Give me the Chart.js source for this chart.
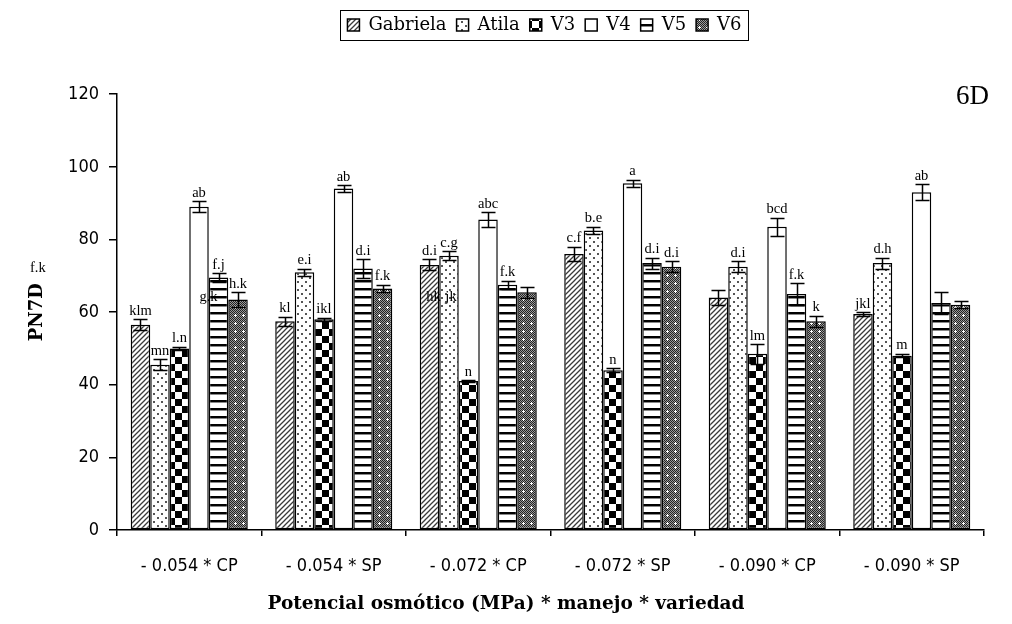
<!DOCTYPE html>
<html>
<head>
<meta charset="utf-8">
<script src="https://cdn.jsdelivr.net/npm/chart.js@4.4.1/dist/chart.umd.min.js"></script>
<style>
  html, body { margin: 0; padding: 0; background: #fff; }
  #wrap { width: 1012px; height: 624px; position: relative; }
</style>
</head>
<body>
<div id="wrap"><canvas id="chart"></canvas></div>
<script>
/* --- Data --- */
const categories = ['- 0.054 * CP', '- 0.054 * SP', '- 0.072 * CP', '- 0.072 * SP', '- 0.090 * CP', '- 0.090 * SP'];
const seriesNames = ['Gabriela', 'Atila', 'V3', 'V4', 'V5', 'V6'];

const gabriela = [56.5, 57.5, 73.0, 76.0, 64.0, 59.5];
const atila    = [45.5, 71.0, 75.5, 82.5, 72.5, 73.5];
const v3       = [50.0, 58.0, 41.0, 44.0, 48.5, 48.0];
const v4       = [89.0, 94.0, 85.5, 95.5, 83.5, 93.0];
const v5       = [69.5, 72.0, 67.5, 73.5, 65.0, 62.5];
const v6       = [63.5, 66.5, 65.5, 72.5, 57.5, 62.0];

// standard errors
const gabrielaErr = [1.5, 1.2, 1.5, 2.0, 2.0, 0.5];
const atilaErr    = [1.5, 1.0, 1.2, 1.0, 1.5, 1.5];
const v3Err       = [0.5, 0.5, 0.3, 0.5, 2.7, 0.5];
const v4Err       = [1.5, 1.0, 2.0, 1.0, 2.5, 2.2];
const v5Err       = [1.2, 2.5, 1.2, 1.5, 3.0, 3.0];
const v6Err       = [2.0, 1.0, 1.5, 1.5, 1.5, 1.0];

// significance letters
const gabrielaLetters = ['klm', 'kl', 'd.i', 'c.f', '', 'jkl'];
const atilaLetters    = ['mn', 'e.i', 'c.g', 'b.e', 'd.i', 'd.h'];
const v3Letters       = ['l.n', 'ikl', 'n', 'n', 'lm', 'm'];
const v4Letters       = ['ab', 'ab', 'abc', 'a', 'bcd', 'ab'];
const v5Letters       = ['f.j', 'd.i', 'f.k', 'd.i', 'f.k', ''];
const v6Letters       = ['h.k', 'f.k', '', 'd.i', 'k', ''];

const yTicks = [0, 20, 40, 60, 80, 100, 120];
const xTitle = 'Potencial osmótico (MPa) * manejo * variedad';

/* --- Fill patterns (black & white Excel look) --- */
function makePattern(kind) {
    const c = document.createElement('canvas');
    const g = c.getContext('2d');
    if (kind === 'diag') {
        c.width = 5; c.height = 5;
        g.fillStyle = '#fff'; g.fillRect(0, 0, 5, 5);
        g.strokeStyle = '#3a3a3a'; g.lineWidth = 1.3;
        g.beginPath();
        g.moveTo(-1, 6); g.lineTo(6, -1);
        g.moveTo(-1, 1); g.lineTo(1, -1);
        g.moveTo(4, 6); g.lineTo(6, 4);
        g.stroke();
    } else if (kind === 'dots') {
        c.width = 8; c.height = 8;
        g.fillStyle = '#fff'; g.fillRect(0, 0, 8, 8);
        g.fillStyle = '#555';
        g.fillRect(1, 1, 2, 2);
        g.fillRect(5, 5, 2, 2);
    } else if (kind === 'checker') {
        c.width = 14; c.height = 14;
        g.fillStyle = '#fff'; g.fillRect(0, 0, 14, 14);
        g.fillStyle = '#000';
        g.fillRect(0, 0, 7, 7);
        g.fillRect(7, 7, 7, 7);
    } else if (kind === 'hstripe') {
        c.width = 4; c.height = 8;
        g.fillStyle = '#fff'; g.fillRect(0, 0, 4, 8);
        g.fillStyle = '#000'; g.fillRect(0, 0, 4, 2);
        g.fillStyle = '#888'; g.fillRect(0, 2, 4, 1);
    } else if (kind === 'gray') {
        c.width = 8; c.height = 8;
        for (let y = 0; y < 8; y++) {
            for (let x = 0; x < 8; x++) {
                g.fillStyle = (x + y) % 2 === 0 ? '#222' : '#9a9a9a';
                g.fillRect(x, y, 1, 1);
            }
        }
        g.fillStyle = '#fff';
        g.fillRect(3, 2, 1, 3);
        g.fillRect(2, 3, 3, 1);
    } else {
        c.width = 2; c.height = 2;
        g.fillStyle = '#fff'; g.fillRect(0, 0, 2, 2);
    }
    return g.createPattern(c, 'repeat');
}

const fills = [makePattern('diag'), makePattern('dots'), makePattern('checker'),
               makePattern('plain'), makePattern('hstripe'), makePattern('gray')];
const values  = [gabriela, atila, v3, v4, v5, v6];
const errors  = [gabrielaErr, atilaErr, v3Err, v4Err, v5Err, v6Err];
const letters = [gabrielaLetters, atilaLetters, v3Letters, v4Letters, v5Letters, v6Letters];

// stray letters that sit beside bars in the original
// [text, series index, category index, value, dx in px]
const extraLetters = [
    ['g.k', 4, 0, 62, -10],
    ['hk', 0, 2, 62, 4],
    ['jk', 1, 2, 62, 2]
];

const times = "'Liberation Serif', 'Times New Roman', serif";
const wideSerif = "'DejaVu Serif', serif";
const sans = "'DejaVu Sans Condensed', 'DejaVu Sans', sans-serif";

/* --- Plugins --- */
const errorBarPlugin = {
    id: 'errorBars',
    afterDatasetsDraw(chart) {
        const ctx = chart.ctx;
        const yScale = chart.scales.y;
        ctx.save();
        ctx.strokeStyle = '#000';
        ctx.lineWidth = 1.5;
        chart.data.datasets.forEach((ds, di) => {
            const meta = chart.getDatasetMeta(di);
            meta.data.forEach((bar, i) => {
                const v = values[di][i], e = errors[di][i];
                const yT = Math.round(yScale.getPixelForValue(v + e)) + 0.5;
                const yB = Math.round(yScale.getPixelForValue(v - e)) + 0.5;
                const x = Math.round(bar.x) + 0.5;
                const cap = 7;
                ctx.beginPath();
                ctx.moveTo(x, yT); ctx.lineTo(x, yB);
                ctx.moveTo(x - cap, yT); ctx.lineTo(x + cap, yT);
                ctx.moveTo(x - cap, yB); ctx.lineTo(x + cap, yB);
                ctx.stroke();
            });
        });
        // letters
        ctx.fillStyle = '#000';
        ctx.font = '14.5px ' + times;
        ctx.textAlign = 'center';
        ctx.textBaseline = 'bottom';
        chart.data.datasets.forEach((ds, di) => {
            const meta = chart.getDatasetMeta(di);
            meta.data.forEach((bar, i) => {
                const t = letters[di][i];
                if (!t) return;
                const y = yScale.getPixelForValue(values[di][i] + errors[di][i]) - 1;
                ctx.fillText(t, bar.x, y);
            });
        });
        extraLetters.forEach(([t, di, i, v, dx]) => {
            const bar = chart.getDatasetMeta(di).data[i];
            ctx.textAlign = 'center';
            ctx.fillText(t, bar.x + dx, yScale.getPixelForValue(v));
        });
        // stray "f.k" left of the axis
        ctx.textAlign = 'left';
        ctx.fillText('f.k', chart.chartArea.left - 87, yScale.getPixelForValue(70));
        // panel tag
        ctx.font = '27px ' + times;
        ctx.textAlign = 'right';
        ctx.textBaseline = 'middle';
        ctx.fillText('6D', chart.width - 23, yScale.getPixelForValue(120) + 3);
        // x axis title, centred on the whole figure like the original
        ctx.font = 'bold 18.5px ' + wideSerif;
        ctx.textAlign = 'center';
        ctx.textBaseline = 'middle';
        ctx.fillText(xTitle, chart.width / 2, chart.scales.x.bottom - 10);
        ctx.restore();
    }
};

const legendBoxPlugin = {
    id: 'legendBox',
    afterLayout(chart) {
        // centre the legend roughly over the plot area, not the whole canvas
        const lg = chart.legend;
        if (!lg) return;
        lg.left = chart.chartArea.left - 6;
        lg.right = chart.chartArea.right - 6;
        lg.width = lg.right - lg.left;
    },
    afterDraw(chart) {
        const boxes = chart.legend && chart.legend.legendHitBoxes;
        if (!boxes || !boxes.length) return;
        const left = Math.min(...boxes.map(b => b.left)) - 7;
        const right = Math.max(...boxes.map(b => b.left + b.width)) + 7;
        const top = Math.min(...boxes.map(b => b.top)) - 6;
        const bottom = Math.max(...boxes.map(b => b.top + b.height)) + 6;
        const ctx = chart.ctx;
        ctx.save();
        ctx.strokeStyle = '#000';
        ctx.lineWidth = 1;
        ctx.strokeRect(Math.round(left) + 0.5, Math.round(top) + 0.5,
                       Math.round(right - left), Math.round(bottom - top));
        ctx.restore();
    }
};

/* --- Chart --- */
new Chart(document.getElementById('chart'), {
    type: 'bar',
    data: {
        labels: categories,
        datasets: seriesNames.map((name, i) => ({
            label: name,
            data: values[i],
            backgroundColor: fills[i],
            borderColor: '#000',
            borderWidth: 1.5,
            borderSkipped: false,
            categoryPercentage: 0.81,
            barPercentage: 1.0
        }))
    },
    options: {
        responsive: true,
        maintainAspectRatio: false,
        animation: false,
        layout: { padding: { top: 6, right: 28, bottom: 10, left: 27 } },
        plugins: {
            legend: {
                display: true,
                position: 'top',
                labels: {
                    boxWidth: 12,
                    boxHeight: 12,
                    padding: 10,
                    color: '#000',
                    font: { family: wideSerif, size: 18 }
                }
            },
            // empty title used as a spacer between legend and plot
            title: {
                display: true,
                text: '',
                weight: 500,
                font: { size: 1 },
                padding: { top: 0, bottom: 49 }
            },
            tooltip: { enabled: false }
        },
        scales: {
            x: {
                grid: {
                    display: true,
                    offset: true,
                    drawOnChartArea: false,
                    drawTicks: true,
                    tickLength: 6,
                    color: '#000',
                    lineWidth: 1.5
                },
                border: { display: true, color: '#000', width: 1.5 },
                ticks: {
                    color: '#000',
                    padding: 20,
                    maxRotation: 0,
                    font: { family: sans, size: 18 }
                },
                title: { display: false },
                afterFit(scale) { scale.height = 84; }
            },
            y: {
                min: 0,
                max: 120,
                afterBuildTicks(scale) { scale.ticks = yTicks.map(v => ({ value: v })); },
                grid: {
                    display: true,
                    drawOnChartArea: false,
                    drawTicks: true,
                    tickLength: 8,
                    color: '#000',
                    lineWidth: 1.5
                },
                border: { display: true, color: '#000', width: 1.5 },
                ticks: {
                    color: '#000',
                    padding: 10,
                    font: { family: sans, size: 18 }
                },
                title: {
                    display: true,
                    text: 'PN7D',
                    color: '#000',
                    font: { family: wideSerif, size: 18, weight: 'bold' },
                    padding: { top: 0, bottom: 0 }
                },
                afterFit(scale) { scale.width = 90; }
            }
        }
    },
    plugins: [errorBarPlugin, legendBoxPlugin]
});
</script>
</body>
</html>
